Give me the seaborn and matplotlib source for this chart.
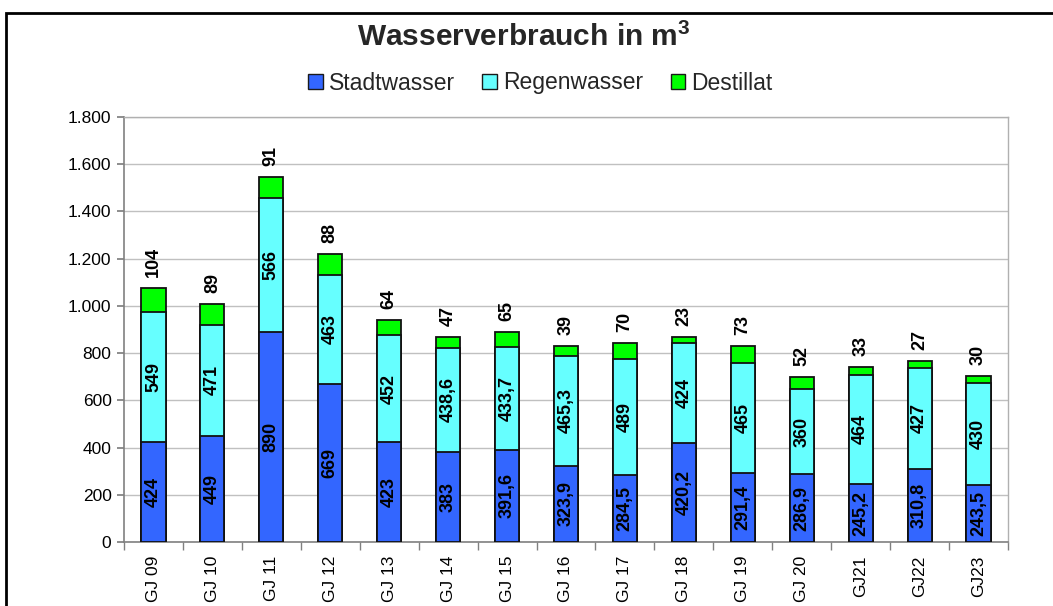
import matplotlib
matplotlib.use("Agg")
import matplotlib.pyplot as plt
from matplotlib.patches import Rectangle, Patch
from matplotlib.ticker import FixedLocator, FuncFormatter
import numpy as np
import pandas as pd
import seaborn as sns

categories = ["GJ 09", "GJ 10", "GJ 11", "GJ 12", "GJ 13", "GJ 14", "GJ 15", "GJ 16",
              "GJ 17", "GJ 18", "GJ 19", "GJ 20", "GJ21", "GJ22", "GJ23"]
stadtwasser = [424, 449, 890, 669, 423, 383, 391.6, 323.9, 284.5, 420.2, 291.4, 286.9, 245.2, 310.8, 243.5]
regenwasser = [549, 471, 566, 463, 452, 438.6, 433.7, 465.3, 489, 424, 465, 360, 464, 427, 430]
destillat = [104, 89, 91, 88, 64, 47, 65, 39, 70, 23, 73, 52, 33, 27, 30]
series_names = ["Stadtwasser", "Regenwasser", "Destillat"]
colors = ["#3366FF", "#66FFFF", "#00FF00"]

sns.set_theme(style="white")
plt.rcParams["font.family"] = ["Liberation Sans", "DejaVu Sans"]
plt.rcParams["mathtext.fontset"] = "custom"
plt.rcParams["mathtext.rm"] = "Liberation Sans:bold"
plt.rcParams["mathtext.bf"] = "Liberation Sans:bold"

s = np.array(stadtwasser)
r = np.array(regenwasser)
d = np.array(destillat)
df = pd.DataFrame({"cat": categories, "s": s, "sr": s + r, "tot": s + r + d})

fig = plt.figure(figsize=(10.53, 6.06), dpi=100)
ax = fig.add_axes([124 / 1053, 1 - 542 / 606, (1008 - 124) / 1053, (542 - 117) / 606])

for col, c in zip(["tot", "sr", "s"], [colors[2], colors[1], colors[0]]):
    sns.barplot(data=df, x="cat", y=col, color=c, saturation=1, width=0.41,
                edgecolor="#111111", linewidth=1.3, ax=ax, zorder=3)

def fmt(v):
    if float(v).is_integer():
        return str(int(v))
    return f"{v:.1f}".replace(".", ",")

for i in range(len(categories)):
    ax.text(i, s[i] / 2, fmt(s[i]), rotation=90, ha="center", va="center",
            fontsize=13, fontweight="bold", color="black", zorder=5)
    ax.text(i, s[i] + r[i] / 2, fmt(r[i]), rotation=90, ha="center", va="center",
            fontsize=13, fontweight="bold", color="black", zorder=5)
    ax.annotate(fmt(d[i]), (i, s[i] + r[i] + d[i]), xytext=(0, 8), textcoords="offset points",
                rotation=90, ha="center", va="bottom", fontsize=13, fontweight="bold",
                color="black", zorder=5)

ax.set_ylim(0, 1800)
ax.set_xlim(-0.5, len(categories) - 0.5)
ax.yaxis.set_major_locator(FixedLocator(np.arange(0, 1801, 200)))
ax.yaxis.set_major_formatter(FuncFormatter(lambda v, p: f"{int(v):,}".replace(",", ".")))
ax.set_xlabel("")
ax.set_ylabel("")
ax.grid(axis="y", color="#c0c0c0", linewidth=1, zorder=0)
ax.set_axisbelow(True)
ax.tick_params(axis="y", which="major", left=True, length=5, color="#808080",
               labelsize=12.5, pad=4, labelcolor="black")
ax.tick_params(axis="x", which="major", bottom=False, length=0, labelsize=12.5, pad=10,
               labelcolor="black")
ax.set_xticks(np.arange(len(categories)))
ax.set_xticklabels(categories, rotation=90, va="top")
ax.xaxis.set_minor_locator(FixedLocator(np.arange(-0.5, len(categories), 1.0)))
ax.tick_params(axis="x", which="minor", bottom=True, length=6, color="#808080")
for side in ["left", "bottom"]:
    ax.spines[side].set_color("#808080")
    ax.spines[side].set_linewidth(1.2)
for side in ["top", "right"]:
    ax.spines[side].set_color("#b0b0b0")
    ax.spines[side].set_linewidth(1)

fig.text(0.497, 1 - 37 / 606, r"Wasserverbrauch in m$^{3}$", ha="center", va="center",
         fontsize=21.5, fontweight="bold")

handles = [Patch(facecolor=c, edgecolor="#1a1a1a", linewidth=1) for c in colors]
fig.legend(handles, series_names, loc="center", bbox_to_anchor=(0.513, 1 - 83 / 606),
           ncol=3, frameon=False, fontsize=16.5, handlelength=0.65, handleheight=0.65,
           handletextpad=0.25, columnspacing=1.2, borderaxespad=0)

fig.patches.append(Rectangle((6 / 1053, -0.2), 1.5, 1.2 - 13 / 606, transform=fig.transFigure,
                             fill=False, edgecolor="black", linewidth=2, zorder=10))

fig.savefig("out.png", dpi=100, facecolor="white")
